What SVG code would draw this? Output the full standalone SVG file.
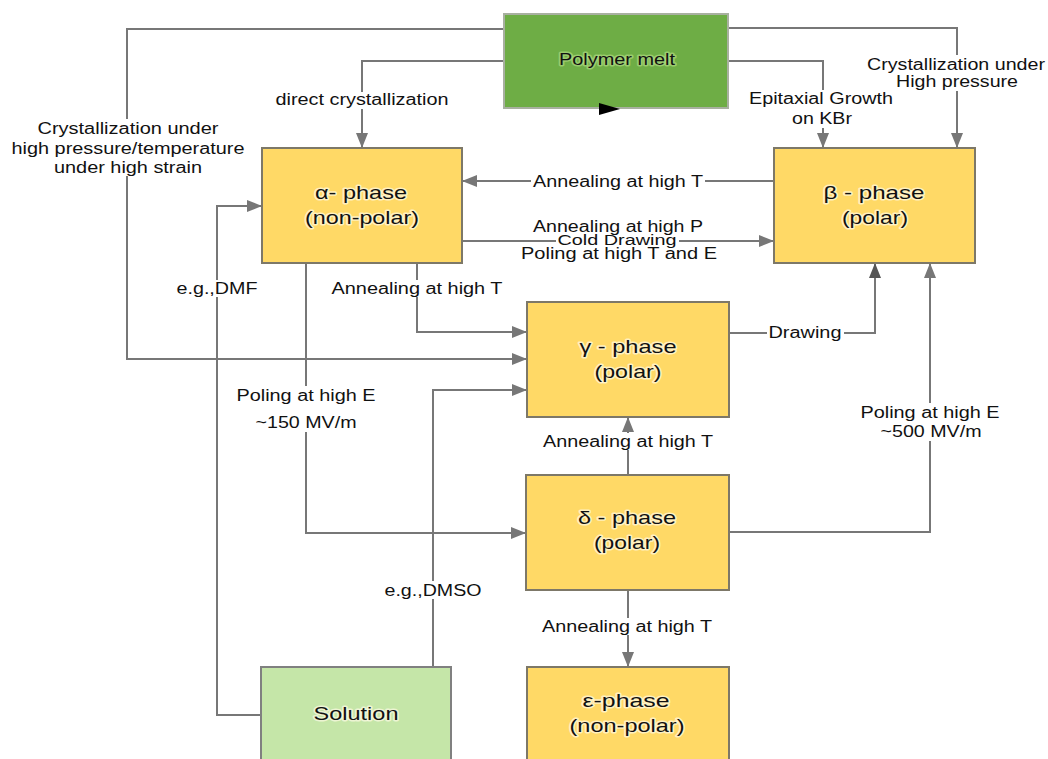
<svg xmlns="http://www.w3.org/2000/svg" width="1048" height="759" viewBox="0 0 1048 759">
<defs>
<style>
.box{fill:#FFD966;stroke:#7d7868;stroke-width:2}
.melt{fill:#6EAD45;stroke:#a8b0a0;stroke-width:2}
.sol{fill:#C5E6A8;stroke:#808080;stroke-width:2}
.t{font-family:"Liberation Sans",Arial,sans-serif;font-size:19px;fill:#111;text-anchor:middle;stroke:#fffbe6;stroke-width:3;stroke-opacity:0.7;stroke-linejoin:round;paint-order:stroke}
.l{font-family:"Liberation Sans",Arial,sans-serif;font-size:16px;fill:#111;text-anchor:middle}
.s{font-size:14px}
.c{fill:none;stroke:#777;stroke-width:2}
.bg{fill:#fff}
</style>
<marker id="a" markerUnits="userSpaceOnUse" markerWidth="16" markerHeight="12" refX="15" refY="6" orient="auto">
<path d="M0,0 L15,6 L0,12 z" fill="#777"/>
</marker>
<marker id="ad" markerUnits="userSpaceOnUse" markerWidth="16" markerHeight="12" refX="15" refY="6" orient="auto">
<path d="M0,0 L15,6 L0,12 z" fill="#555"/>
</marker>
</defs>
<rect width="1048" height="759" fill="#fff"/>

<g id="connectors">
<path class="c" d="M504,29 H127 V359 H527" marker-end="url(#a)"/>
<path class="c" d="M504,61 H362 V148" marker-end="url(#a)"/>
<path class="c" d="M728,61 H823 V148" marker-end="url(#a)"/>
<path class="c" d="M728,28 H957 V148" marker-end="url(#a)"/>
<path class="c" d="M774,181 H462" marker-end="url(#a)"/>
<path class="c" d="M462,241 H774" marker-end="url(#a)"/>
<path class="c" d="M417,263 V332 H527" marker-end="url(#a)"/>
<path class="c" d="M306,263 V533 H526" marker-end="url(#a)"/>
<path class="c" d="M729,333 H875 V263" stroke="#555" marker-end="url(#ad)"/>
<path class="c" d="M729,532 H930 V263" marker-end="url(#a)"/>
<path class="c" d="M628,475 V417" marker-end="url(#a)"/>
<path class="c" d="M628,590 V667" marker-end="url(#a)"/>
<path class="c" d="M261,715 H217 V206 H262" marker-end="url(#a)"/>
<path class="c" d="M433,667 V390 H527" marker-end="url(#a)"/>

<rect class="bg" x="10" y="119" width="236" height="57"/>
<rect class="bg" x="274" y="92" width="176" height="17"/>
<rect class="bg" x="747" y="90" width="148" height="38"/>
<rect class="bg" x="865" y="55" width="182" height="36"/>
<rect class="bg" x="531" y="174" width="174" height="16"/>
<rect class="bg" x="556" y="236" width="123" height="10"/>
<rect class="bg" x="330" y="280" width="175" height="17"/>
<rect class="bg" x="767" y="324" width="77" height="17"/>
<rect class="bg" x="175" y="280" width="84" height="17"/>
<rect class="bg" x="234" y="386" width="143" height="46"/>
<rect class="bg" x="541" y="433" width="174" height="17"/>
<rect class="bg" x="859" y="403" width="143" height="38"/>
<rect class="bg" x="383" y="581" width="101" height="18"/>
<rect class="bg" x="540" y="618" width="174" height="17"/>

<text class="l" x="128" y="134" textLength="181" lengthAdjust="spacingAndGlyphs">Crystallization under</text>
<text class="l" x="128" y="154" textLength="233" lengthAdjust="spacingAndGlyphs">high pressure/temperature</text>
<text class="l" x="128" y="173" textLength="148" lengthAdjust="spacingAndGlyphs">under high strain</text>
<text class="l" x="362" y="105" textLength="173" lengthAdjust="spacingAndGlyphs">direct crystallization</text>
<text class="l" x="821" y="104" textLength="144" lengthAdjust="spacingAndGlyphs">Epitaxial Growth</text>
<text class="l" x="822" y="124" textLength="60" lengthAdjust="spacingAndGlyphs">on KBr</text>
<text class="l" x="956" y="70" textLength="178" lengthAdjust="spacingAndGlyphs">Crystallization under</text>
<text class="l" x="957" y="87" textLength="122" lengthAdjust="spacingAndGlyphs">High pressure</text>
<text class="l" x="618" y="187" textLength="170" lengthAdjust="spacingAndGlyphs">Annealing at high T</text>
<text class="l" x="618" y="232" textLength="170" lengthAdjust="spacingAndGlyphs">Annealing at high P</text>
<text class="l s" x="617" y="245" textLength="119" lengthAdjust="spacingAndGlyphs">Cold Drawing</text>
<text class="l" x="619" y="259" textLength="196" lengthAdjust="spacingAndGlyphs">Poling at high T and E</text>
<text class="l" x="417" y="294" textLength="171" lengthAdjust="spacingAndGlyphs">Annealing at high T</text>
<text class="l" x="805" y="338" textLength="73" lengthAdjust="spacingAndGlyphs">Drawing</text>
<text class="l" x="217" y="294" textLength="81" lengthAdjust="spacingAndGlyphs">e.g.,DMF</text>
<text class="l" x="306" y="401" textLength="139" lengthAdjust="spacingAndGlyphs">Poling at high E</text>
<text class="l" x="306" y="428" textLength="101" lengthAdjust="spacingAndGlyphs">~150 MV/m</text>
<text class="l" x="628" y="447" textLength="170" lengthAdjust="spacingAndGlyphs">Annealing at high T</text>
<text class="l" x="930" y="418" textLength="139" lengthAdjust="spacingAndGlyphs">Poling at high E</text>
<text class="l" x="931" y="437" textLength="101" lengthAdjust="spacingAndGlyphs">~500 MV/m</text>
<text class="l" x="433" y="596" textLength="97" lengthAdjust="spacingAndGlyphs">e.g.,DMSO</text>
<text class="l" x="627" y="632" textLength="170" lengthAdjust="spacingAndGlyphs">Annealing at high T</text>
</g>

<g id="polymer-melt">
<rect class="melt" x="504" y="14" width="224" height="94"/>
<text class="l" x="617" y="65" textLength="116" lengthAdjust="spacingAndGlyphs" style="stroke:#b8e08a;stroke-width:3;stroke-opacity:0.6;paint-order:stroke;stroke-linejoin:round">Polymer melt</text>
<path d="M599,103 L620,109 L599,115 z" fill="#000"/>
</g>

<g id="alpha">
<rect class="box" x="262" y="148" width="200" height="115"/>
<text class="t" x="361" y="199" textLength="92" lengthAdjust="spacingAndGlyphs">α- phase</text>
<text class="t" x="362" y="224" textLength="114" lengthAdjust="spacingAndGlyphs">(non-polar)</text>
</g>

<g id="beta">
<rect class="box" x="774" y="148" width="201" height="115"/>
<text class="t" x="874" y="199" textLength="101" lengthAdjust="spacingAndGlyphs">β - phase</text>
<text class="t" x="875" y="224" textLength="66" lengthAdjust="spacingAndGlyphs">(polar)</text>
</g>

<g id="gamma">
<rect class="box" x="527" y="302" width="202" height="115"/>
<text class="t" x="628" y="353" textLength="97" lengthAdjust="spacingAndGlyphs">γ - phase</text>
<text class="t" x="628" y="378" textLength="67" lengthAdjust="spacingAndGlyphs">(polar)</text>
</g>

<g id="delta">
<rect class="box" x="526" y="475" width="203" height="115"/>
<text class="t" x="627" y="524" textLength="98" lengthAdjust="spacingAndGlyphs">δ - phase</text>
<text class="t" x="627" y="549" textLength="66" lengthAdjust="spacingAndGlyphs">(polar)</text>
</g>

<g id="epsilon">
<rect class="box" x="527" y="667" width="202" height="115"/>
<text class="t" x="626" y="707" textLength="87" lengthAdjust="spacingAndGlyphs">ε-phase</text>
<text class="t" x="627" y="732" textLength="115" lengthAdjust="spacingAndGlyphs">(non-polar)</text>
</g>

<g id="solution">
<rect class="sol" x="261" y="667" width="190" height="115"/>
<text class="t" x="356" y="720" textLength="85" lengthAdjust="spacingAndGlyphs">Solution</text>
</g>
</svg>
